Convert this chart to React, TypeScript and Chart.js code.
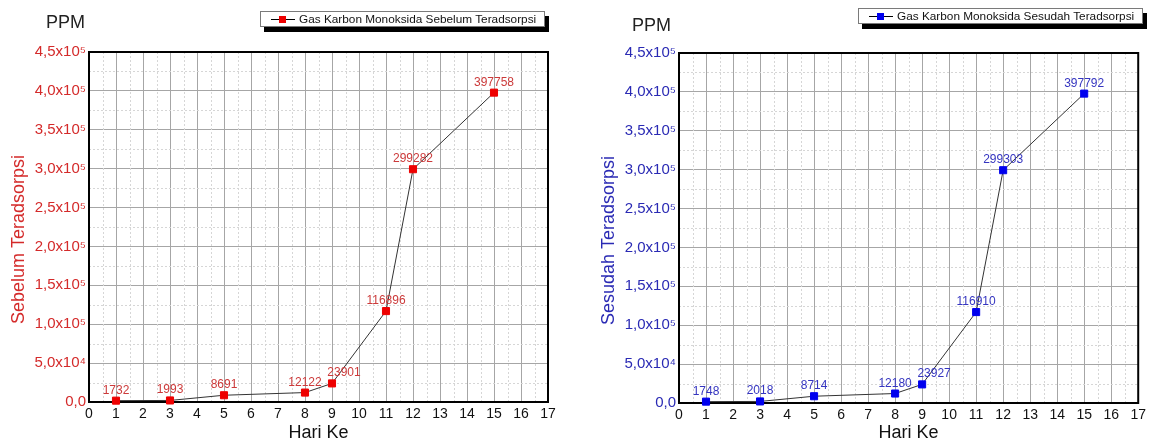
import React, { useEffect, useRef } from 'react';
import { Chart, registerables } from 'chart.js';

Chart.register(...registerables);

// ---- data ----
const days = [1, 3, 5, 8, 9, 11, 12, 15];
const beforeValues = [1732, 1993, 8691, 12122, 23901, 116896, 299282, 397758];
const afterValues = [1748, 2018, 8714, 12180, 23927, 116910, 299303, 397792];
const yTickValues = [0, 50000, 100000, 150000, 200000, 250000, 300000, 350000, 400000, 450000];
const yTickLabels = ['0,0', '5,0x10⁴', '1,0x10⁵', '1,5x10⁵', '2,0x10⁵', '2,5x10⁵', '3,0x10⁵', '3,5x10⁵', '4,0x10⁵', '4,5x10⁵'];
const xMin = 0;
const xMax = 17;
const yMax = 450000;

const FONT = '"Liberation Sans", Arial, sans-serif';
Chart.defaults.font.family = FONT;

// style: horizontal nudges of the value labels (px)
const labelNudge = [0, 0, 0, 0, 12, 0, 0, 0];
const NBSP5 = '\u00a0\u00a0\u00a0\u00a0\u00a0';

const decorPlugin = {
  id: 'decor',
  beforeDatasetsDraw(chart: any) {
    const { ctx, chartArea: a, scales } = chart;
    const x = scales.x;
    const y = scales.y;
    ctx.save();
    ctx.strokeStyle = '#d6d6d6';
    ctx.lineWidth = 1;
    ctx.setLineDash([2, 2]);
    for (let v = xMin + 0.5; v < xMax; v += 1) {
      const px = Math.round(x.getPixelForValue(v)) + 0.5;
      ctx.beginPath();
      ctx.moveTo(px, a.top);
      ctx.lineTo(px, a.bottom);
      ctx.stroke();
    }
    for (let v = 25000; v < yMax; v += 50000) {
      const py = Math.round(y.getPixelForValue(v)) + 0.5;
      ctx.beginPath();
      ctx.moveTo(a.left, py);
      ctx.lineTo(a.right, py);
      ctx.stroke();
    }
    ctx.setLineDash([]);
    ctx.strokeStyle = '#000';
    ctx.lineWidth = 2;
    ctx.strokeRect(a.left, a.top, a.right - a.left, a.bottom - a.top);
    ctx.restore();
  },
  afterDatasetsDraw(chart: any, _args: any, opts: any) {
    const { ctx } = chart;
    const meta = chart.getDatasetMeta(0);
    const values = opts.values as number[];
    ctx.save();
    ctx.font = `12px ${FONT}`;
    ctx.fillStyle = opts.labelColor;
    ctx.textAlign = 'center';
    ctx.textBaseline = 'alphabetic';
    meta.data.forEach((pt: any, i: number) => {
      ctx.fillText(String(values[i]), pt.x + labelNudge[i], pt.y - 7);
    });
    ctx.restore();
  },
};

type PanelProps = {
  left: number;
  width: number;
  plotTop: number;
  xAxisH: number;
  padRight: number;
  values: number[];
  marker: string;
  axisColor: string;
  labelColor: string;
  yTitle: string;
  legendText: string;
  legendLeft: number;
  legendTop: number;
  legendWidth: number;
  ppmLeft: number;
  ppmTop: number;
};

function Panel(p: PanelProps) {
  const ref = useRef<HTMLCanvasElement | null>(null);
  useEffect(() => {
    if (!ref.current) return;
    const chart = new Chart(ref.current, {
      type: 'line',
      data: {
        datasets: [
          {
            label: p.legendText,
            data: days.map((d, i) => ({ x: d, y: p.values[i] })) as any,
            borderColor: '#333',
            borderWidth: 1,
            tension: 0,
            pointStyle: 'rect',
            pointRadius: 5,
            pointBorderWidth: 1,
            pointBackgroundColor: p.marker,
            pointBorderColor: p.marker,
            clip: false as any,
          },
        ],
      },
      options: {
        animation: false,
        responsive: true,
        maintainAspectRatio: false,
        layout: { padding: { top: p.plotTop, right: p.padRight, left: 0, bottom: 0 } },
        plugins: {
          legend: { display: false },
          tooltip: { enabled: false },
          decor: { labelColor: p.labelColor, values: p.values },
        } as any,
        scales: {
          x: {
            type: 'linear',
            min: xMin,
            max: xMax,
            ticks: { stepSize: 1, color: '#111', font: { size: 14 }, padding: 4, maxRotation: 0 },
            grid: { color: '#a6a6a6', lineWidth: 1, drawTicks: false },
            border: { color: '#000', width: 2 },
            title: { display: true, text: 'Hari Ke', color: '#111', font: { size: 18 }, padding: { top: 0, bottom: 2 } },
            afterFit: (s: any) => {
              s.height = p.xAxisH;
            },
          },
          y: {
            type: 'linear',
            min: 0,
            max: yMax,
            afterBuildTicks: (s: any) => {
              s.ticks = yTickValues.map((v) => ({ value: v }));
            },
            ticks: {
              color: p.axisColor,
              font: { size: 15 },
              padding: 3,
              callback: (_v: any, i: number) => yTickLabels[i],
            },
            grid: { color: '#a6a6a6', lineWidth: 1, drawTicks: false },
            border: { color: '#000', width: 2 },
            title: {
              display: true,
              text: p.yTitle + NBSP5,
              color: p.axisColor,
              font: { size: 18 },
              padding: { top: 8, bottom: 0 },
            },
            afterFit: (s: any) => {
              s.width = 89;
            },
          },
        },
      },
      plugins: [decorPlugin],
    });
    return () => chart.destroy();
  }, []);

  return (
    <>
      <div style={{ position: 'absolute', left: p.left, top: 0, width: p.width, height: 446 }}>
        <canvas ref={ref} />
      </div>
      <div
        style={{
          position: 'absolute',
          left: p.ppmLeft,
          top: p.ppmTop,
          fontFamily: FONT,
          fontSize: 18,
          lineHeight: '18px',
          color: '#222',
        }}
      >
        PPM
      </div>
      <div
        style={{
          position: 'absolute',
          left: p.legendLeft,
          top: p.legendTop,
          width: p.legendWidth,
          height: 16,
          boxSizing: 'border-box',
          border: '1px solid #7a7a7a',
          background: '#fff',
          boxShadow: '4px 5px 0 #000',
          display: 'flex',
          alignItems: 'center',
          fontFamily: FONT,
          fontSize: 11.8,
          color: '#111',
          whiteSpace: 'nowrap',
        }}
      >
        <div style={{ position: 'relative', width: 24, height: 1, background: '#000', marginLeft: 10, marginRight: 4 }}>
          <div
            style={{
              position: 'absolute',
              left: 8,
              top: -3,
              width: 7,
              height: 7,
              background: p.marker,
            }}
          />
        </div>
        <span>{p.legendText}</span>
      </div>
    </>
  );
}

export default function App() {
  return (
    <div style={{ position: 'absolute', left: 0, top: 0, width: 1150, height: 446, background: '#fff', overflow: 'hidden' }}>
      <Panel
        left={0}
        width={575}
        plotTop={52}
        xAxisH={44}
        padRight={27}
        values={beforeValues}
        marker="#ee0000"
        axisColor="#d42a2a"
        labelColor="#cc3a3a"
        yTitle="Sebelum Teradsorpsi"
        legendText="Gas Karbon Monoksida Sebelum Teradsorpsi"
        legendLeft={260}
        legendTop={11}
        legendWidth={285}
        ppmLeft={46}
        ppmTop={13}
      />
      <Panel
        left={590}
        width={560}
        plotTop={53}
        xAxisH={43}
        padRight={11}
        values={afterValues}
        marker="#0000ee"
        axisColor="#2a2ab4"
        labelColor="#3535c0"
        yTitle="Sesudah Teradsorpsi"
        legendText="Gas Karbon Monoksida Sesudah Teradsorpsi"
        legendLeft={858}
        legendTop={8}
        legendWidth={285}
        ppmLeft={632}
        ppmTop={16}
      />
    </div>
  );
}
